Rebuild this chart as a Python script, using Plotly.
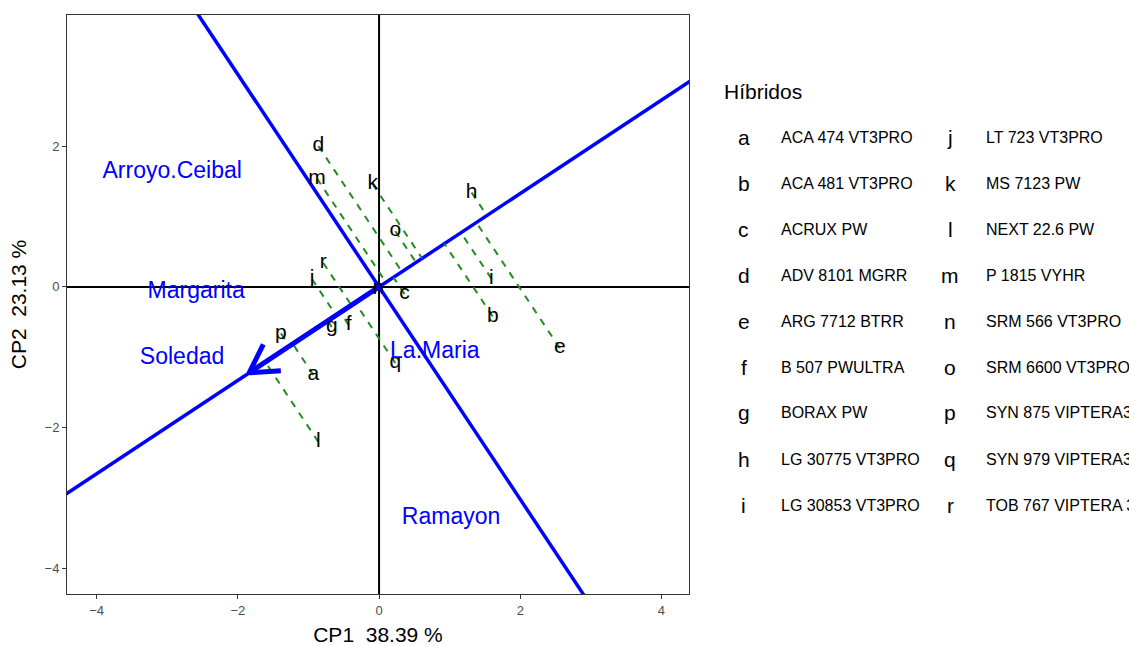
import math
import plotly.graph_objects as go

# ---- data ----
geno_codes = ["a","b","c","d","e","f","g","h","i","j","k","l","m","n","o","p","q","r"]
geno_names = ["ACA 474 VT3PRO","ACA 481 VT3PRO","ACRUX PW","ADV 8101 MGRR","ARG 7712 BTRR",
              "B 507 PWULTRA","BORAX PW","LG 30775 VT3PRO","LG 30853 VT3PRO","LT 723 VT3PRO",
              "MS 7123 PW","NEXT 22.6 PW","P 1815 VYHR","SRM 566 VT3PRO","SRM 6600 VT3PRO",
              "SYN 875 VIPTERA3","SYN 979 VIPTERA3","TOB 767 VIPTERA 3"]
geno_x = [-0.93, 1.61, 0.36, -0.86, 2.56, -0.43, -0.67, 1.31, 1.59, -0.95, -0.09, -0.86, -0.88, -0.01, 0.23, -1.39, 0.23, -0.79]
geno_y = [-1.25, -0.42, -0.10, 2.00, -0.87, -0.54, -0.57, 1.34, 0.12, 0.11, 1.46, -2.20, 1.54, -0.02, 0.79, -0.66, -1.08, 0.34]

env_names = ["Arroyo.Ceibal", "Margarita", "Soledad", "La.Maria", "Ramayon"]
env_x = [-2.93, -2.59, -2.79, 0.79, 1.02]
env_y = [1.63, -0.08, -1.01, -0.93, -3.29]

# selected environment vector (arrow tip)
sel_env_x = -1.84
sel_env_y = -1.22

x_title = "CP1\u00a0\u00a038.39 %"
y_title = "CP2\u00a0\u00a023.13 %"
x_ticks = [-4, -2, 0, 2, 4]
y_ticks = [-4, -2, 0, 2]
x_range = [-4.42, 4.39]
y_range = [-4.36, 3.86]

FONT = "Liberation Sans, Arial"

# ---- geometry ----
norm = math.hypot(sel_env_x, sel_env_y)
ux, uy = sel_env_x / norm, sel_env_y / norm
L = 20
fig = go.Figure()

# origin axes
fig.add_trace(go.Scatter(x=[-L, L], y=[0, 0], mode="lines", line=dict(color="black", width=2), hoverinfo="skip"))
fig.add_trace(go.Scatter(x=[0, 0], y=[-L, L], mode="lines", line=dict(color="black", width=2), hoverinfo="skip"))

# environment axis and its perpendicular
fig.add_trace(go.Scatter(x=[-L*ux, L*ux], y=[-L*uy, L*uy], mode="lines", line=dict(color="#0000FF", width=3.5), hoverinfo="skip"))
fig.add_trace(go.Scatter(x=[-L*uy, L*uy], y=[L*ux, -L*ux], mode="lines", line=dict(color="#0000FF", width=3.5), hoverinfo="skip"))

# projections of genotypes on environment axis
for gx, gy in zip(geno_x, geno_y):
    d = gx*ux + gy*uy
    fig.add_trace(go.Scatter(x=[gx, d*ux], y=[gy, d*uy], mode="lines",
                             line=dict(color="#228B22", width=2, dash="7px,7px"), hoverinfo="skip"))

# arrow to selected environment
fig.add_trace(go.Scatter(x=[0, sel_env_x], y=[0, sel_env_y], mode="lines",
                         line=dict(color="#0000FF", width=5), hoverinfo="skip"))
ang = math.atan2(-uy, -ux)
hl = 0.45
h1 = (sel_env_x + hl*math.cos(ang + math.radians(30)), sel_env_y + hl*math.sin(ang + math.radians(30)))
h2 = (sel_env_x + hl*math.cos(ang - math.radians(30)), sel_env_y + hl*math.sin(ang - math.radians(30)))
fig.add_trace(go.Scatter(x=[h1[0], sel_env_x, h2[0]], y=[h1[1], sel_env_y, h2[1]], mode="lines",
                         line=dict(color="#0000FF", width=5), hoverinfo="skip"))

# labels
fig.add_trace(go.Scatter(x=geno_x, y=geno_y, mode="text", text=geno_codes, textposition="middle center",
                         textfont=dict(family=FONT, size=21, color="black"), hoverinfo="text"))
fig.add_trace(go.Scatter(x=env_x, y=env_y, mode="text", text=env_names, textposition="middle center",
                         textfont=dict(family=FONT, size=23, color="#0000FF"), hoverinfo="text"))

# ---- layout ----
ml, mr, mt, mb = 67, 440, 15, 52
W, H = 1129, 646
pw, ph = W - ml - mr, H - mt - mb

def px(xp):
    return (xp - ml) / pw
def py(yp):
    return (H - mb - yp) / ph

annotations = []
annotations.append(dict(text="Híbridos", x=px(722), y=py(92), xref="paper", yref="paper",
                        xanchor="left", yanchor="middle", showarrow=False,
                        font=dict(family=FONT, size=21, color="black")))
row_y = [137 + 46*i for i in range(9)]
for i, (code, name) in enumerate(zip(geno_codes, geno_names)):
    col = i // 9
    r = i % 9
    kx = 744 if col == 0 else 950
    nx = 779 if col == 0 else 984
    annotations.append(dict(text=code, x=px(kx), y=py(row_y[r]), xref="paper", yref="paper",
                            xanchor="center", yanchor="middle", showarrow=False,
                            font=dict(family=FONT, size=21, color="black")))
    annotations.append(dict(text=name, x=px(nx), y=py(row_y[r]), xref="paper", yref="paper",
                            xanchor="left", yanchor="middle", showarrow=False,
                            font=dict(family=FONT, size=16, color="black")))

axis_common = dict(showgrid=False, zeroline=False, showline=True, linecolor="#333333", linewidth=1,
                   mirror=True, ticks="outside", ticklen=4, tickcolor="#333333", tickwidth=1,
                   automargin=False,
                   tickfont=dict(family=FONT, size=13, color="#4D4D4D"))

fig.update_layout(
    width=W, height=H,
    margin=dict(l=ml, r=mr, t=mt, b=mb),
    paper_bgcolor="white", plot_bgcolor="white",
    showlegend=False,
    xaxis=dict(range=x_range, tickvals=x_ticks, ticktext=[str(v).replace("-", "\u2212") for v in x_ticks],
               title=dict(text=x_title, font=dict(family=FONT, size=21, color="black"), standoff=10),
               **axis_common),
    yaxis=dict(range=y_range, tickvals=y_ticks, ticktext=[str(v).replace("-", "\u2212") for v in y_ticks],
               title=dict(text=y_title, font=dict(family=FONT, size=21, color="black"), standoff=12),
               **axis_common),
    annotations=annotations,
)

fig.write_html("out.html")
